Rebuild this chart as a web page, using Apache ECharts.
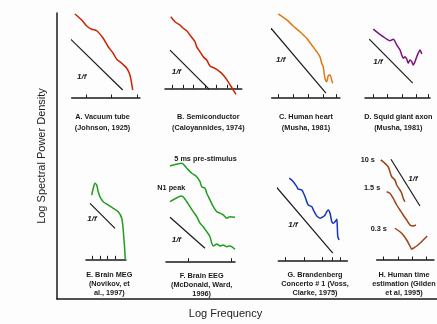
<!DOCTYPE html>
<html><head><meta charset="utf-8">
<script src="https://cdn.jsdelivr.net/npm/echarts@6/dist/echarts.min.js"></script>
<style>html,body{margin:0;padding:0;background:#fff}#c{width:437px;height:324px}</style>
</head><body><div id="c"></div>
<script>
// ---- Data (x = log frequency, y = log power; one unit ~ one decade) ----
const vacuumTube = [[0.13,3.36],[0.40,3.12],[0.60,2.88],[0.80,2.75],[1.00,2.69],[1.26,2.39],[1.46,2.05],[1.66,1.79],[1.80,1.55],[2.00,1.39],[2.20,1.19],[2.33,0.92],[2.44,0.32]];
const vacuumTubeRef = [[-0.14,2.45],[2.04,0.32]];
const vacuumTubeTicks = [0.57,1.57,2.61];

const semiconductor = [[0.23,2.86],[0.40,2.66],[0.60,2.53],[0.73,2.40],[0.87,2.30],[1.00,2.13],[1.13,1.96],[1.20,1.86],[1.27,1.66],[1.40,1.46],[1.53,1.26],[1.67,1.13],[1.80,0.89],[2.00,0.80],[2.20,0.66],[2.33,0.53],[2.53,0.26],[2.73,-0.07],[2.84,-0.24]];
const semiconductorRef = [[0.20,1.53],[1.77,-0.04]];
const semiconductorTicks = [0.27,0.71,1.13,1.60,2.04,2.49,2.89];

const humanHeart = [[0.26,3.35],[0.60,3.11],[0.86,2.87],[1.13,2.64],[1.40,2.38],[1.60,2.11],[1.80,1.84],[1.93,1.64],[2.00,1.38],[2.06,1.24],[2.09,1.04],[2.13,0.78],[2.20,0.64],[2.26,0.87],[2.33,0.91],[2.40,0.71],[2.44,0.58]];
const humanHeartRef = [[-0.14,2.91],[2.17,0.18]];
const humanHeartTicks = [0.26,0.86,1.46,2.06,2.60];

const squidAxon = [[0.33,2.74],[0.53,2.58],[0.73,2.44],[0.87,2.34],[1.00,2.28],[1.13,2.34],[1.27,2.11],[1.40,1.91],[1.47,1.71],[1.53,1.58],[1.60,1.64],[1.67,1.54],[1.73,1.38],[1.80,1.51],[1.87,1.44],[1.93,1.31],[2.00,1.44],[2.07,1.64],[2.13,1.78],[2.20,1.91],[2.27,1.75]];
const squidAxonRef = [[0.17,2.34],[1.91,0.58]];
const squidAxonTicks = [0.33,0.87,1.47,2.04,2.53];

const brainMEG = [[0.23,2.57],[0.29,2.84],[0.36,3.04],[0.43,2.97],[0.49,2.70],[0.56,2.50],[0.69,2.30],[0.89,2.17],[1.09,2.04],[1.29,1.90],[1.43,1.64],[1.49,1.17],[1.52,0.77],[1.55,0.37],[1.57,-0.03]];
const brainMEGRef = [[0.16,2.24],[1.16,1.24]];
const brainMEGTicks = [0.23,0.56,0.85,1.16];

const eegPreStimulus = [[0.16,3.83],[0.63,3.94],[0.83,3.74],[1.03,3.54],[1.23,3.40],[1.36,3.20],[1.43,3.00],[1.56,2.94],[1.63,2.74],[1.76,2.47],[1.89,2.20],[2.03,2.00],[2.16,1.94],[2.29,1.87],[2.43,1.74],[2.56,1.80],[2.76,1.78]];
const eegN1Peak = [[0.16,2.40],[0.63,2.63],[0.83,2.40],[0.96,2.20],[1.09,2.00],[1.23,1.80],[1.36,1.54],[1.49,1.40],[1.63,1.20],[1.76,1.00],[1.83,0.74],[1.89,0.63],[2.03,0.71],[2.16,0.63],[2.29,0.67],[2.43,0.60],[2.56,0.63],[2.76,0.50]];
const brainEEGRef = [[0.16,1.78],[1.56,0.54]];
const brainEEGTicks = [0.89,2.59];

const brandenberg = [[0.44,3.30],[0.60,3.16],[0.74,2.96],[0.80,2.86],[0.94,2.83],[1.07,2.56],[1.14,2.36],[1.20,2.23],[1.34,2.16],[1.40,2.03],[1.47,1.90],[1.54,1.79],[1.67,1.70],[1.80,1.76],[1.87,1.83],[1.94,1.96],[2.00,2.03],[2.07,1.90],[2.14,1.56],[2.20,1.50],[2.27,1.56],[2.34,1.66],[2.36,1.36],[2.38,0.96],[2.43,0.83]];
const brandenbergRef = [[-0.26,3.16],[2.18,0.30]];
const brandenbergTicks = [0.27,1.03,1.74,2.14,2.47];

const time10s = [[0.16,4.00],[0.26,3.93],[0.46,3.73],[0.53,3.53],[0.60,3.33],[0.73,3.20],[0.80,3.00],[0.93,2.80],[1.00,2.67],[1.06,2.47],[1.13,2.33]];
const time1_5s = [[0.40,2.73],[0.53,2.67],[0.66,2.47],[0.80,2.20],[0.93,2.00],[1.06,1.80],[1.20,1.60],[1.33,1.40],[1.46,1.36],[1.57,1.40]];
const time0_3s = [[0.73,1.27],[0.93,1.13],[1.06,1.00],[1.20,0.80],[1.33,0.56],[1.40,0.43],[1.46,0.47],[1.60,0.56],[1.73,0.67],[1.86,0.80],[2.02,0.96]];
const timeRef = [[0.57,4.03],[1.73,2.16]];
const timeTicks = [0.26,0.86,1.44,2.00];

const captions = [
  'A. Vacuum tube\n(Johnson, 1925)',
  'B. Semiconductor\n(Caloyannides, 1974)',
  'C. Human heart\n(Musha, 1981)',
  'D. Squid giant axon\n(Musha, 1981)',
  'E. Brain MEG\n(Novikov, et\nal., 1997)',
  'F. Brain EEG\n(McDonald, Ward,\n1996)',
  'G. Brandenberg\nConcerto # 1 (Voss,\nClarke, 1975)',
  'H. Human time\nestimation (Gilden\net al, 1995)'
];
const refLabel = '1/f';
const xTitle = 'Log Frequency';
const yTitle = 'Log Spectral Power Density';

// ---- Layout / style (not data) ----
const S = 25; // px per unit
const C = {red:'#cc2200', orange:'#e07810', purple:'#7a1080', green:'#1f9e1f', blue:'#1535c0', brown:'#9c4316', ink:'#1a1a1a'};
const panels = [
  {left:71.7, axisY:98,    xMax:2.73, yMax:3.6, ticks:vacuumTubeTicks, curves:[[vacuumTube,C.red]], ref:vacuumTubeRef},
  {left:165,  axisY:88.3,  xMax:3.07, yMax:3.3, ticks:semiconductorTicks, curves:[[semiconductor,C.red]], ref:semiconductorRef},
  {left:271.7,axisY:97.7,  xMax:2.73, yMax:3.6, ticks:humanHeartTicks, curves:[[humanHeart,C.orange]], ref:humanHeartRef},
  {left:365,  axisY:97.7,  xMax:2.6,  yMax:3.6, ticks:squidAxonTicks, curves:[[squidAxon,C.purple]], ref:squidAxonRef},
  {left:86,   axisY:259.3, xMax:1.6,  yMax:4.2, ticks:brainMEGTicks, curves:[[brainMEG,C.green]], ref:brainMEGRef},
  {left:166,  axisY:261.7, xMax:2.76, yMax:4.2, ticks:brainEEGTicks, curves:[[eegPreStimulus,C.green],[eegN1Peak,C.green]], ref:brainEEGRef},
  {left:278.3,axisY:260.7, xMax:2.76, yMax:4.2, ticks:brandenbergTicks, curves:[[brandenberg,C.blue]], ref:brandenbergRef},
  {left:376.7,axisY:260,   xMax:2.29, yMax:4.2, ticks:timeTicks, curves:[[time10s,C.brown],[time1_5s,C.brown],[time0_3s,C.brown]], ref:timeRef}
];
const captionPos = [[102.5,112,10.5],[208.3,112,10.5],[306,112,10.5],[398.3,112,10.5],[109.3,270.5,9],[201.7,271,9],[315,270.5,9],[404,270.5,9]];
const refLabelPos = [[77,77],[171.7,71.7],[276,60],[373.3,61.7],[87.3,218.3],[171.7,239.3],[288.3,225],[408.3,178.3]];
const extraLabels = [
  ['5 ms pre-stimulus',174.3,159],['N1 peak',157.3,187.7],
  ['10 s',360.7,160],['1.5 s',364,188.3],['0.3 s',370.7,229.3]
];

const grid = [], xAxis = [], yAxis = [], series = [], graphic = [];
panels.forEach((p,i)=>{
  grid.push({left:p.left, top:p.axisY - p.yMax*S, width:p.xMax*S, height:p.yMax*S});
  xAxis.push({gridIndex:i, type:'value', min:0, max:p.xMax,
    axisLine:{show:true, onZero:false, lineStyle:{color:C.ink, width:1.5}},
    axisTick:{show:true, inside:true, length:3.5, customValues:p.ticks, lineStyle:{color:C.ink, width:1}},
    axisLabel:{show:false}, splitLine:{show:false}});
  yAxis.push({gridIndex:i, type:'value', min:0, max:p.yMax, show:false, splitLine:{show:false}});
  series.push({type:'line', xAxisIndex:i, yAxisIndex:i, data:p.ref, clip:false, showSymbol:false, symbol:'none',
    lineStyle:{color:C.ink, width:1.2}, silent:true});
  p.curves.forEach(([d,col])=>{
    series.push({type:'line', xAxisIndex:i, yAxisIndex:i, data:d, clip:false, showSymbol:false, symbol:'none', smooth:0.25,
      lineStyle:{color:col, width:1.5}, silent:true});
  });
});
// outer frame axes
grid.push({left:57, top:13, right:0, bottom:20});
xAxis.push({gridIndex:8, type:'value', min:0, max:1,
  axisLine:{show:true, onZero:false, lineStyle:{color:C.ink, width:1.5}}, axisTick:{show:false}, axisLabel:{show:false}, splitLine:{show:false},
  name:xTitle, nameLocation:'middle', nameGap:9,
  nameTextStyle:{fontFamily:'Liberation Sans, Arial', fontSize:11, color:'#222', padding:[0,43,0,0]}});
yAxis.push({gridIndex:8, type:'value', min:0, max:1,
  axisLine:{show:true, onZero:false, lineStyle:{color:C.ink, width:1.5}}, axisTick:{show:false}, axisLabel:{show:false}, splitLine:{show:false},
  name:yTitle, nameLocation:'middle', nameGap:10,
  nameTextStyle:{fontFamily:'Liberation Sans, Arial', fontSize:11, color:'#222'}});

captions.forEach((t,i)=>{
  const [x,y,lh] = captionPos[i];
  graphic.push({type:'text', x:x, y:y, style:{text:t, fill:'#1a1a1a', font:'bold 7.3px "Liberation Sans", Arial',
    align:'center', textAlign:'center', verticalAlign:'top', textVerticalAlign:'top', lineHeight:lh}});
});
refLabelPos.forEach(([x,y])=>{
  graphic.push({type:'text', x:x, y:y, style:{text:refLabel, fill:'#1a1a1a', font:'italic bold 8px "Liberation Sans", Arial',
    align:'left', textAlign:'left', verticalAlign:'middle', textVerticalAlign:'middle'}});
});
extraLabels.forEach(([t,x,y])=>{
  graphic.push({type:'text', x:x, y:y, style:{text:t, fill:'#1a1a1a', font:'bold 7.3px "Liberation Sans", Arial',
    align:'left', textAlign:'left', verticalAlign:'middle', textVerticalAlign:'middle'}});
});

const chart = echarts.init(document.getElementById('c'), null, {renderer:'canvas'});
chart.setOption({animation:false, backgroundColor:'#fdfdfd', grid, xAxis, yAxis, series, graphic});
</script></body></html>
